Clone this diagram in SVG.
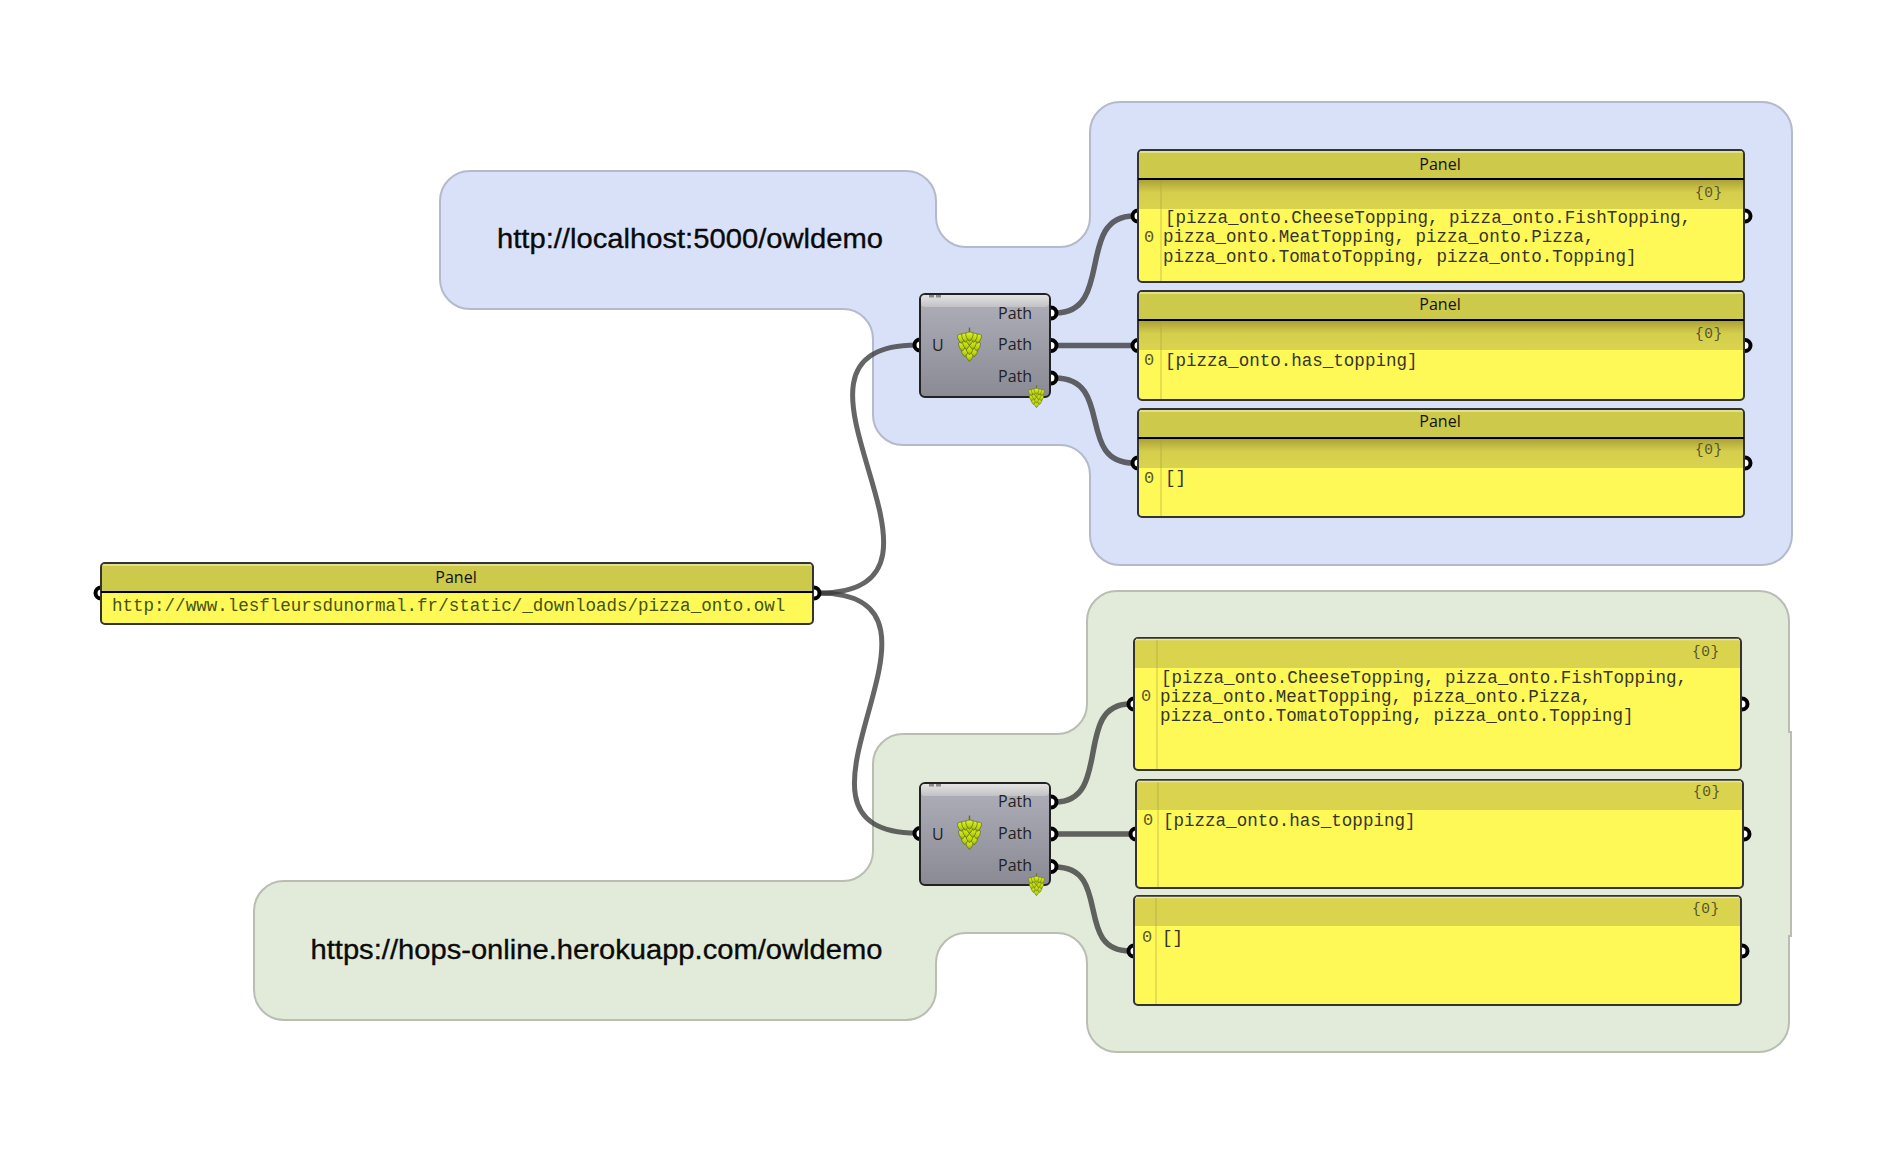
<svg xmlns="http://www.w3.org/2000/svg" xmlns:xlink="http://www.w3.org/1999/xlink" width="1890" height="1152" viewBox="0 0 1890 1152">
<defs>
<style>
.port{fill:#fff;stroke:#000;stroke-width:4}
.body{fill:#fff958;stroke:#333;stroke-width:2}
.title{fill:#cdc94b}
.hl{stroke:#e9e7a6;stroke-width:1.5;fill:none}
.band{fill:url(#bandG)}
.band2{fill:#d9d34e}
.rule{stroke:#000;stroke-width:2}
.margin{stroke:#a8a23c;stroke-opacity:.4;stroke-width:1.5}
.ptitle{font:16px "Open Sans","Noto Sans",sans-serif;fill:#111;text-anchor:middle}
.mono{font:17.55px "Liberation Mono",monospace;fill:#35352a}
.idx{font:17px "Liberation Mono",monospace;fill:#5a5a2c;text-anchor:middle}
.path0{font:14.5px "Liberation Mono",monospace;fill:#55552c;letter-spacing:.6px}
.comp{fill:url(#compG);stroke:#222;stroke-width:2}
.clab{font:16px "Open Sans","Noto Sans",sans-serif;fill:#222}
.glab{font:27.5px "Liberation Sans",Arial,sans-serif;fill:#0a0a0a;stroke:#0a0a0a;stroke-width:.35}
.wire{fill:none;stroke:#3a3a3a;stroke-opacity:.78;stroke-width:5;stroke-linecap:round}
.out{stroke-width:5.5}
.scale{fill:url(#hopG);stroke:#5d6a2a;stroke-width:.7}
</style>
<linearGradient id="bandG" x1="0" y1="0" x2="0" y2="1"><stop offset="0" stop-color="#a99f36"/><stop offset=".45" stop-color="#d4ce4c"/><stop offset="1" stop-color="#d9d34e"/></linearGradient>
<linearGradient id="mainG" x1="0" y1="0" x2="0" y2="1"><stop offset="0" stop-color="#cfc94a"/><stop offset=".55" stop-color="#fff958"/><stop offset="1" stop-color="#fff958"/></linearGradient>
<linearGradient id="compG" x1="0" y1="0" x2="0" y2="1"><stop offset="0" stop-color="#b0b0ba"/><stop offset="1" stop-color="#8a8a94"/></linearGradient>
<linearGradient id="compT" x1="0" y1="0" x2="0" y2="1"><stop offset="0" stop-color="#e4e4e4"/><stop offset="1" stop-color="#c2c2c6"/></linearGradient>
<linearGradient id="hopG" x1="0" y1="0" x2="0" y2="1"><stop offset="0" stop-color="#e2f02a"/><stop offset=".6" stop-color="#bcd808"/><stop offset="1" stop-color="#8aa600"/></linearGradient>
<path id="sc" class="scale" d="M-3.600 -3C-1.500 -4.500 1.500 -4.500 3.600 -3C4 0.500 1.800 3.200 0 5C-1.800 3.200 -4 0.500 -3.600 -3Z"/>
<symbol id="hop" viewBox="0 0 24 34">
<path d="M12 0.500V7" stroke="#66701f" stroke-width="1.400" fill="none"/>
<use href="#sc" transform="translate(12 28.500)"/>
<use href="#sc" transform="translate(7.500 24)"/><use href="#sc" transform="translate(16.500 24)"/>
<use href="#sc" transform="translate(12 22)"/>
<use href="#sc" transform="translate(5 18.500)"/><use href="#sc" transform="translate(19 18.500)"/>
<use href="#sc" transform="translate(9 17)"/><use href="#sc" transform="translate(15 17)"/>
<use href="#sc" transform="translate(4 11)"/><use href="#sc" transform="translate(20 11)"/>
<use href="#sc" transform="translate(12 13)"/>
<use href="#sc" transform="translate(8 10)"/><use href="#sc" transform="translate(16 10)"/>
<use href="#sc" transform="translate(12 9)"/>
</symbol>
</defs>
<rect width="1890" height="1152" fill="#fff"/>

<g id="group-localhost">
<path d="M1120 102H1762a30 30 0 0 1 30 30V535a30 30 0 0 1 -30 30H1120a30 30 0 0 1 -30 -30V475a30 30 0 0 0 -30 -30H903a30 30 0 0 1 -30 -30V339a30 30 0 0 0 -30 -30H470a30 30 0 0 1 -30 -30V201a30 30 0 0 1 30 -30H906a30 30 0 0 1 30 30V217a30 30 0 0 0 30 30H1060a30 30 0 0 0 30 -30V132a30 30 0 0 1 30 -30Z" fill="#d9e1f9" stroke="#b5bacb" stroke-width="2"/>
<text class="glab" x="497" y="248" textLength="386" lengthAdjust="spacingAndGlyphs">http://localhost:5000/owldemo</text>
</g>
<g id="group-heroku">
<path d="M1117 591H1759a30 30 0 0 1 30 30V732H1791V936H1789V1022a30 30 0 0 1 -30 30H1117a30 30 0 0 1 -30 -30V963a30 30 0 0 0 -30 -30H966a30 30 0 0 0 -30 30V990a30 30 0 0 1 -30 30H284a30 30 0 0 1 -30 -30V911a30 30 0 0 1 30 -30H843a30 30 0 0 0 30 -30V764a30 30 0 0 1 30 -30H1057a30 30 0 0 0 30 -30V621a30 30 0 0 1 30 -30Z" fill="#e2ebd9" stroke="#b9bdb2" stroke-width="2"/>
<text class="glab" x="310.500" y="959" textLength="572" lengthAdjust="spacingAndGlyphs">https://hops-online.herokuapp.com/owldemo</text>
</g>

<g id="connectors">
<path class="wire" d="M818 593C992 593 745 345 917 345"/>
<path class="wire" d="M818 593C985 593 752 833 917 833"/>
<path class="wire out" d="M1055 313C1115 313 1075 216 1134 216"/>
<path class="wire out" d="M1055 345.500H1134"/>
<path class="wire out" d="M1055 378C1115 378 1075 463 1134 463"/>
<path class="wire out" d="M1055 802C1113 802 1073 704 1130 704"/>
<path class="wire out" d="M1055 834H1132"/>
<path class="wire out" d="M1055 867C1113 867 1073 951 1130 951"/>
</g>

<g id="panel-input">
<circle class="port" cx="101" cy="593" r="5.500"/><circle class="port" cx="814" cy="593" r="5.500"/>
<rect class="body" x="101" y="563" width="712" height="61" rx="4" style="fill:url(#mainG)"/>
<rect class="title" x="102" y="564" width="710" height="28" rx="3"/>
<path class="hl" d="M103 565H811"/>
<path class="rule" d="M101 592H813"/>
<text class="ptitle" x="456" y="583">Panel</text>
<text class="mono" x="112" y="611" style="fill:#44530f">http://www.lesfleursdunormal.fr/static/_downloads/pizza_onto.owl</text>
</g>

<g id="panel-local-1">
<circle class="port" cx="1138" cy="216" r="5.500"/><circle class="port" cx="1745" cy="216" r="5.500"/>
<rect class="body" x="1138" y="150" width="606" height="132" rx="4"/>
<rect class="title" x="1139" y="151" width="604" height="28" rx="3"/>
<path class="hl" d="M1140 152H1742"/>
<rect class="band" x="1139" y="179" width="604" height="30"/>
<path class="margin" d="M1161 180V281"/>
<path class="rule" d="M1138 179H1744"/>
<text class="ptitle" x="1440" y="170">Panel</text>
<text class="path0" x="1695" y="197">{0}</text>
<text class="idx" x="1149" y="242">0</text>
<text class="mono" x="1165" y="223">[pizza_onto.CheeseTopping, pizza_onto.FishTopping,</text>
<text class="mono" x="1163" y="242">pizza_onto.MeatTopping, pizza_onto.Pizza,</text>
<text class="mono" x="1163" y="262">pizza_onto.TomatoTopping, pizza_onto.Topping]</text>
</g>

<g id="panel-local-2">
<circle class="port" cx="1138" cy="345.500" r="5.500"/><circle class="port" cx="1745" cy="345.500" r="5.500"/>
<rect class="body" x="1138" y="291" width="606" height="109" rx="4"/>
<rect class="title" x="1139" y="292" width="604" height="28" rx="3"/>
<path class="hl" d="M1140 293H1742"/>
<rect class="band" x="1139" y="320" width="604" height="30"/>
<path class="margin" d="M1161 321V399"/>
<path class="rule" d="M1138 320H1744"/>
<text class="ptitle" x="1440" y="310">Panel</text>
<text class="path0" x="1695" y="338">{0}</text>
<text class="idx" x="1149" y="365">0</text>
<text class="mono" x="1165" y="366">[pizza_onto.has_topping]</text>
</g>

<g id="panel-local-3">
<circle class="port" cx="1138" cy="463" r="5.500"/><circle class="port" cx="1745" cy="463" r="5.500"/>
<rect class="body" x="1138" y="409" width="606" height="108" rx="4"/>
<rect class="title" x="1139" y="410" width="604" height="28" rx="3"/>
<path class="hl" d="M1140 411H1742"/>
<rect class="band" x="1139" y="438" width="604" height="30"/>
<path class="margin" d="M1161 439V516"/>
<path class="rule" d="M1138 438H1744"/>
<text class="ptitle" x="1440" y="427">Panel</text>
<text class="path0" x="1695" y="454">{0}</text>
<text class="idx" x="1149" y="483">0</text>
<text class="mono" x="1165" y="483">[]</text>
</g>

<g id="panel-heroku-1">
<circle class="port" cx="1134" cy="704" r="5.500"/><circle class="port" cx="1742" cy="704" r="5.500"/>
<rect class="body" x="1134" y="638" width="607" height="132" rx="4"/>
<rect class="band2" x="1135" y="640" width="605" height="28"/>
<path class="hl" d="M1136 639.500H1739"/>
<path class="margin" d="M1157 640V769"/>
<text class="path0" x="1692" y="656">{0}</text>
<text class="idx" x="1146" y="701">0</text>
<text class="mono" x="1161" y="683">[pizza_onto.CheeseTopping, pizza_onto.FishTopping,</text>
<text class="mono" x="1160" y="702">pizza_onto.MeatTopping, pizza_onto.Pizza,</text>
<text class="mono" x="1160" y="721">pizza_onto.TomatoTopping, pizza_onto.Topping]</text>
</g>

<g id="panel-heroku-2">
<circle class="port" cx="1136" cy="834" r="5.500"/><circle class="port" cx="1744" cy="834" r="5.500"/>
<rect class="body" x="1136" y="780" width="607" height="108" rx="4"/>
<rect class="band2" x="1137" y="782" width="605" height="28"/>
<path class="hl" d="M1138 781.500H1741"/>
<path class="margin" d="M1158 782V887"/>
<text class="path0" x="1693" y="796">{0}</text>
<text class="idx" x="1148" y="825">0</text>
<text class="mono" x="1163" y="826">[pizza_onto.has_topping]</text>
</g>

<g id="panel-heroku-3">
<circle class="port" cx="1134" cy="951" r="5.500"/><circle class="port" cx="1742" cy="951" r="5.500"/>
<rect class="body" x="1134" y="896" width="607" height="109" rx="4"/>
<rect class="band2" x="1135" y="898" width="605" height="28"/>
<path class="hl" d="M1136 897.500H1739"/>
<path class="margin" d="M1156 898V1004"/>
<text class="path0" x="1692" y="913">{0}</text>
<text class="idx" x="1147" y="942">0</text>
<text class="mono" x="1162" y="943">[]</text>
</g>

<g id="hops-local">
<circle class="port" cx="920" cy="345" r="5.500"/><circle class="port" cx="1051" cy="313" r="5.500"/><circle class="port" cx="1051" cy="345.500" r="5.500"/><circle class="port" cx="1051" cy="378" r="5.500"/>
<rect class="comp" x="920" y="294" width="130" height="103" rx="5"/>
<rect x="921" y="295" width="128" height="12" rx="4" fill="url(#compT)"/>
<rect x="929" y="295" width="5" height="2.500" fill="#8a8a8a"/><rect x="936" y="295" width="5" height="2.500" fill="#8a8a8a"/>
<text class="clab" x="932" y="351">U</text>
<text class="clab" x="998" y="319">Path</text><text class="clab" x="998" y="350">Path</text><text class="clab" x="998" y="382">Path</text>
<use xlink:href="#hop" href="#hop" x="957" y="327" width="25" height="35"/>
<use xlink:href="#hop" href="#hop" x="1028" y="385" width="17" height="23"/>
</g>

<g id="hops-heroku">
<circle class="port" cx="920" cy="833.500" r="5.500"/><circle class="port" cx="1051" cy="802" r="5.500"/><circle class="port" cx="1051" cy="834" r="5.500"/><circle class="port" cx="1051" cy="866.500" r="5.500"/>
<rect class="comp" x="920" y="783" width="130" height="102" rx="5"/>
<rect x="921" y="784" width="128" height="12" rx="4" fill="url(#compT)"/>
<rect x="929" y="784" width="5" height="2.500" fill="#8a8a8a"/><rect x="936" y="784" width="5" height="2.500" fill="#8a8a8a"/>
<text class="clab" x="932" y="840">U</text>
<text class="clab" x="998" y="807">Path</text><text class="clab" x="998" y="839">Path</text><text class="clab" x="998" y="871">Path</text>
<use xlink:href="#hop" href="#hop" x="957" y="815" width="25" height="35"/>
<use xlink:href="#hop" href="#hop" x="1028" y="873" width="17" height="23"/>
</g>
</svg>
